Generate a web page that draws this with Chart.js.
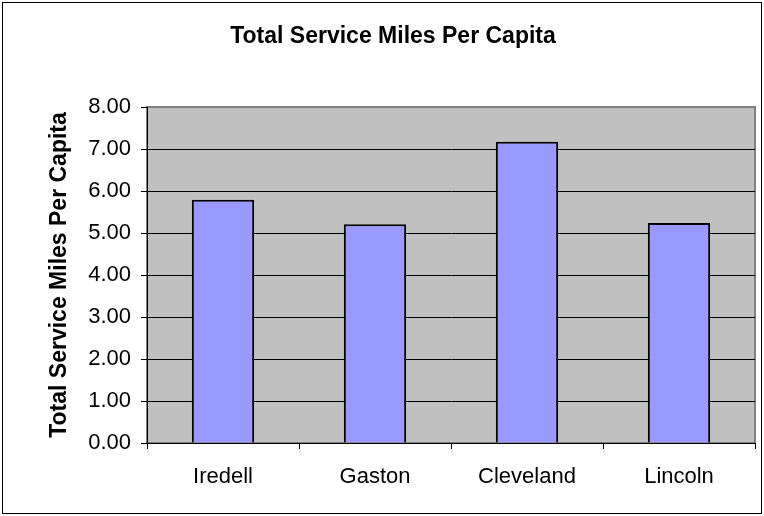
<!DOCTYPE html>
<html>
<head>
<meta charset="utf-8">
<script src="https://cdn.jsdelivr.net/npm/chart.js@4"></script>
<style>
    body { margin: 0; background: #fff; }
    #wrap { width: 764px; height: 516px; }
</style>
</head>
<body>
<div id="wrap"><canvas id="grafico" width="764" height="516"></canvas></div>
<script>
const counties = ['Iredell', 'Gaston', 'Cleveland', 'Lincoln'];
const milesPerCapita = [5.79, 5.21, 7.17, 5.24];
const yTicks = [0, 1, 2, 3, 4, 5, 6, 7, 8];

const chartTitle = 'Total Service Miles Per Capita';
const yTitle = 'Total Service Miles Per Capita';

// gray plot background + frame around the whole chart
const plotBackground = {
    id: 'plotBackground',
    beforeDraw(chart) {
        const { ctx, chartArea: a } = chart;
        ctx.save();
        ctx.fillStyle = '#c0c0c0';
        ctx.fillRect(a.left, a.top, a.right - a.left, a.bottom - a.top);
        ctx.strokeStyle = '#808080';
        ctx.lineWidth = 2;
        ctx.strokeRect(a.left, a.top, a.right - a.left, a.bottom - a.top);
        ctx.restore();
    },
    afterDraw(chart) {
        const ctx = chart.ctx;
        ctx.save();
        ctx.strokeStyle = '#000';
        ctx.lineWidth = 1;
        ctx.strokeRect(2.5, 2.5, 759, 511);
        ctx.restore();
    }
};

const ctx = document.getElementById('grafico').getContext('2d');

const myChart = new Chart(ctx, {
    type: 'bar',
    data: {
        labels: counties,
        datasets: [{
            label: chartTitle,
            data: milesPerCapita,
            backgroundColor: '#9999ff',
            borderColor: '#000',
            borderWidth: 2,
            barPercentage: 0.41,
            categoryPercentage: 1
        }]
    },
    options: {
        responsive: false,
        animation: false,
        devicePixelRatio: 1,
        layout: { padding: { left: 31, top: 0, right: 9, bottom: 0 } },
        plugins: {
            legend: { display: false },
            tooltip: { enabled: false },
            title: {
                display: true,
                text: chartTitle,
                color: '#000',
                font: { family: 'Liberation Sans, Arial', size: 23, weight: 'bold' },
                padding: { top: 23, bottom: 56.4 }
            }
        },
        scales: {
            x: {
                border: { display: true, color: '#000', width: 1 },
                grid: {
                    offset: true,
                    drawOnChartArea: false,
                    drawTicks: true,
                    tickLength: 6,
                    color: '#000'
                },
                ticks: {
                    color: '#000',
                    padding: 15,
                    font: { family: 'Liberation Sans, Arial', size: 22 }
                },
                afterFit(scale) {
                    scale.height = 73;
                }
            },
            y: {
                min: 0,
                max: 8,
                border: { display: true, color: '#000', width: 1 },
                grid: {
                    color: (c) => c.tick && c.tick.value === 8 ? '#808080' : '#000',
                    tickColor: '#000',
                    tickLength: 6
                },
                afterBuildTicks(scale) {
                    scale.ticks = yTicks.map(v => ({ value: v }));
                },
                ticks: {
                    color: '#000',
                    padding: 10,
                    font: { family: 'Liberation Sans, Arial', size: 22 },
                    callback: function(value) {
                        return Number(value).toFixed(2);
                    }
                },
                title: {
                    display: true,
                    text: yTitle,
                    color: '#000',
                    padding: { top: 15, bottom: 0 },
                    font: { family: 'Liberation Sans, Arial', size: 23, weight: 'bold' }
                },
                afterFit(scale) {
                    scale.width = 116;
                }
            }
        }
    },
    plugins: [plotBackground]
});
</script>
</body>
</html>
